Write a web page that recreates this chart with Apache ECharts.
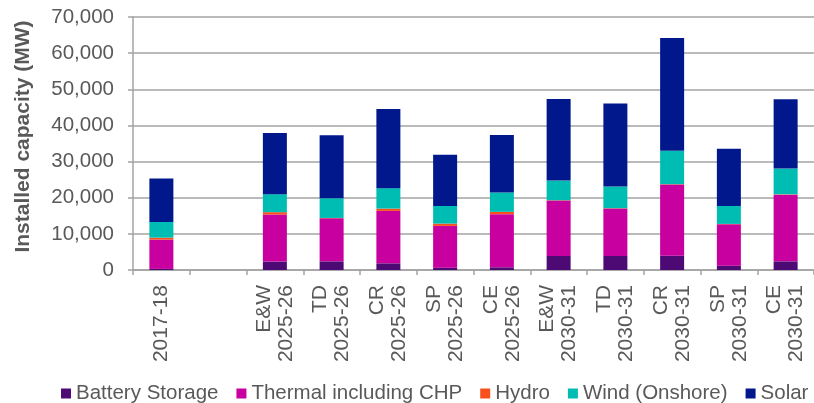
<!DOCTYPE html>
<html>
<head>
<meta charset="utf-8">
<script src="https://cdn.jsdelivr.net/npm/echarts@6/dist/echarts.min.js"></script>
<style>
  html, body { margin: 0; padding: 0; background: #ffffff; }
  #chart { width: 814px; height: 403px; }
</style>
</head>
<body>
<div id="chart"></div>
<script>
// Installed generation capacity by scenario (MW)
const categories = [
  '2017-18', '',
  'E&W\n2025-26', 'TD\n2025-26', 'CR\n2025-26', 'SP\n2025-26', 'CE\n2025-26',
  'E&W\n2030-31', 'TD\n2030-31', 'CR\n2030-31', 'SP\n2030-31', 'CE\n2030-31'
];
const batteryStorage = [300, null, 2350, 2400, 1850, 650, 750, 3900, 3900, 3950, 1200, 2400];
const thermalCHP     = [8100, null, 13000, 11900, 14500, 11550, 14700, 15300, 13100, 19700, 11450, 18450];
const hydro          = [550, null, 650, 100, 640, 640, 640, 100, 100, 100, 100, 100];
const windOnshore    = [4350, null, 4980, 5440, 5650, 4900, 5350, 5450, 6000, 9230, 4980, 7110];
const solar          = [12000, null, 16900, 17450, 21880, 14130, 15890, 22530, 23000, 31210, 15790, 19210];
const yTicks = { min: 0, max: 70000, interval: 10000 };

const FONT = "'Liberation Sans', Arial, sans-serif";
const TEXT = '#595959';
const GRID = '#a3a3a3';

const seriesDefs = [
  { name: 'Battery Storage', data: batteryStorage, color: '#4e0a74' },
  { name: 'Thermal including CHP', data: thermalCHP, color: '#c8009f' },
  { name: 'Hydro', data: hydro, color: '#f8501c' },
  { name: 'Wind (Onshore)', data: windOnshore, color: '#00bdb3' },
  { name: 'Solar', data: solar, color: '#00188c' }
];

const chart = echarts.init(document.getElementById('chart'), null, { renderer: 'canvas' });
chart.setOption({
  animation: false,
  textStyle: { fontFamily: FONT },
  grid: { left: 133, right: -9, top: 17, bottom: 133, containLabel: false },
  legend: {
    left: 56, top: 378, width: 790,
    icon: 'rect', itemWidth: 10, itemHeight: 10, itemGap: 18,
    textStyle: { fontFamily: FONT, fontSize: 20.5, color: TEXT },
    data: seriesDefs.map(s => s.name)
  },
  xAxis: {
    type: 'category',
    data: categories,
    axisLine: { lineStyle: { color: GRID, width: 1.5 } },
    axisTick: { show: true, length: 5, lineStyle: { color: GRID, width: 1.5 } },
    axisLabel: {
      rotate: 90, interval: 0, margin: 15,
      fontFamily: FONT, fontSize: 21, color: TEXT, lineHeight: 22
    }
  },
  yAxis: {
    type: 'value',
    min: yTicks.min, max: yTicks.max, interval: yTicks.interval,
    name: 'Installed capacity (MW)',
    nameLocation: 'middle', nameGap: 99,
    nameTextStyle: { fontFamily: FONT, fontSize: 21, fontWeight: 'bold', color: TEXT, padding: [0, 0, 0, 14] },
    axisLine: { show: true, lineStyle: { color: GRID, width: 1.5 } },
    axisTick: { show: true, length: 5, lineStyle: { color: GRID, width: 1.5 } },
    axisLabel: {
      margin: 19, fontFamily: FONT, fontSize: 20.5, color: TEXT,
      formatter: v => v.toLocaleString('en-US')
    },
    splitLine: { lineStyle: { color: GRID, width: 1.5 } }
  },
  series: seriesDefs.map(s => ({
    name: s.name,
    type: 'bar',
    stack: 'capacity',
    barWidth: 24,
    data: s.data,
    itemStyle: { color: s.color }
  }))
});
</script>
</body>
</html>
